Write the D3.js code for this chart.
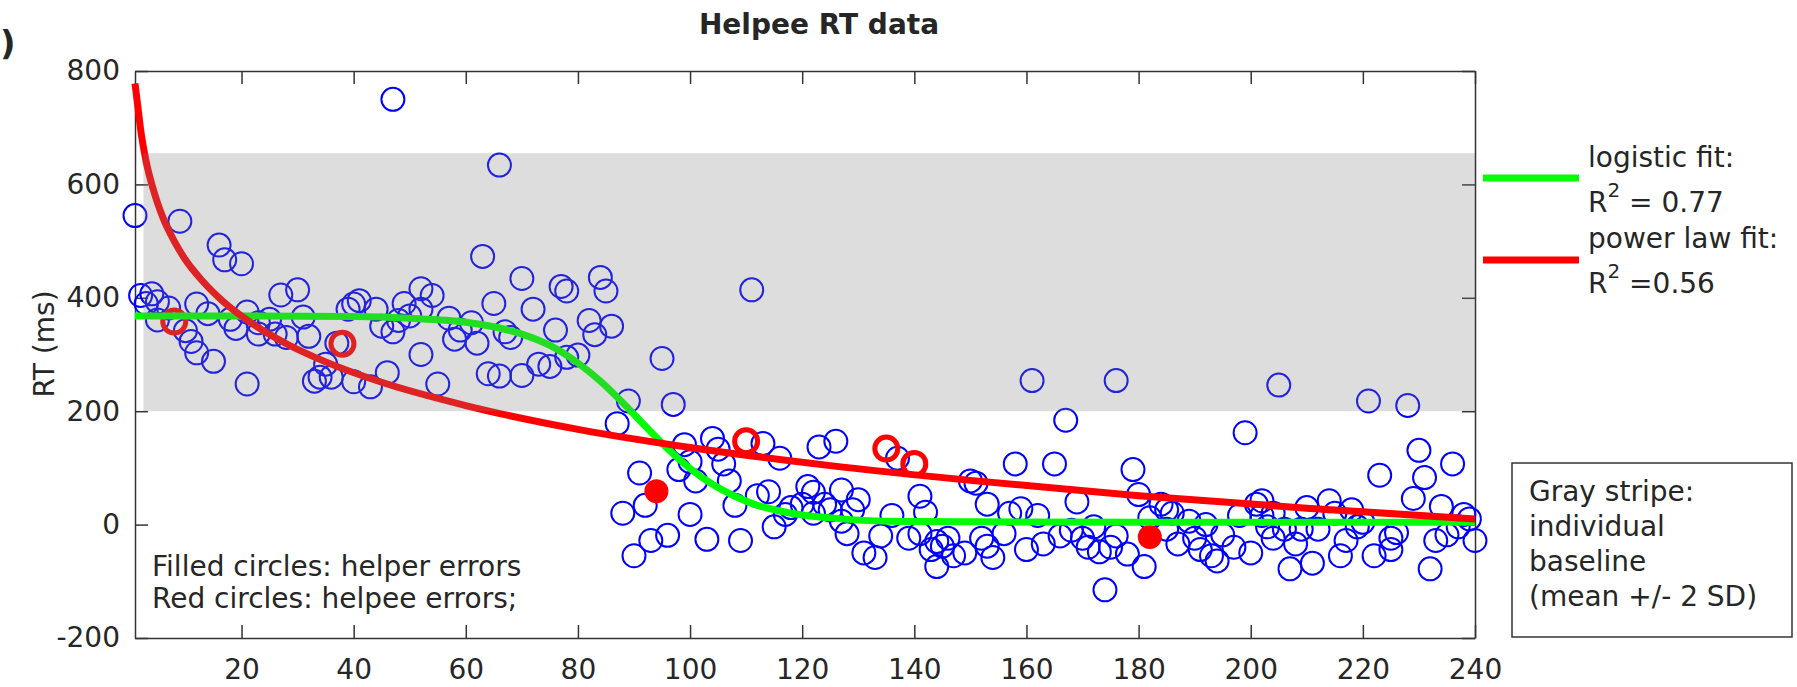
<!DOCTYPE html>
<html>
<head>
<meta charset="utf-8">
<script src="https://cdn.jsdelivr.net/npm/d3@7"></script>
<style>
  body { margin: 0; background: #fff; }
  text { font-family: "DejaVu Sans", sans-serif; fill: #262626; }
</style>
</head>
<body>
<div id="chart-area"></div>
<script>
// Helpee RT data - scatter of RT per trial with two fits

// blue circles: [trial, RT in ms]
const trials = [
  [1,545],[2,404],[3,390],[4,407],[5,393],[5,361],[7,382],[9,535],[10,342],[11,323],
  [12,303],[12,389],[14,372],[15,288],[16,493],[17,467],[18,362],[19,346],[20,460],[21,375],
  [21,248],[23,356],[23,336],[25,362],[26,336],[27,405],[28,330],[30,414],[31,366],[32,332],
  [33,253],[34,260],[35,283],[36,260],[37,320],[39,380],[40,389],[40,252],[41,395],[43,243],
  [44,380],[45,350],[46,268],[47,750],[47,340],[48,360],[49,390],[50,368],[52,416],[52,380],
  [52,300],[54,404],[55,248],[57,364],[58,327],[59,343],[61,356],[62,320],[63,473],[64,266],
  [65,390],[66,262],[66,634],[67,340],[68,330],[70,434],[70,263],[72,380],[73,283],[75,279],
  [76,343],[77,420],[78,412],[78,295],[80,299],[82,360],[83,335],[84,436],[85,412],[86,350],
  [87,178],[88,20],[89,218],[90,-55],[91,91],[92,34],[93,-28],[95,293],[96,-19],[97,212],
  [98,97],[99,141],[100,111],[101,77],[100,18],[103,-26],[104,152],[105,133],[106,107],[107,77],
  [108,34],[109,-28],[111,414],[112,51],[113,143],[114,58],[115,-4],[116,117],[117,18],[118,30],
  [120,36],[121,67],[122,57],[123,137],[122,20],[124,36],[125,26],[126,147],[127,61],[127,6],
  [128,-16],[129,26],[130,44],[131,-50],[133,-58],[134,-20],[136,16],[137,117],[139,-24],[141,-16],
  [141,50],[142,22],[143,-44],[144,-74],[144,-30],[145,-38],[146,-24],[147,-55],[149,-50],[150,77],
  [151,73],[153,36],[152,-24],[153,-38],[154,-58],[156,-16],[157,20],[158,107],[159,28],[160,-44],
  [161,254],[162,16],[163,-34],[165,107],[166,-20],[167,184],[168,-10],[169,40],[170,-24],[171,-40],
  [172,-4],[173,-48],[174,-115],[175,-40],[176,254],[176,-20],[178,-52],[179,97],[180,53],[181,-74],
  [182,12],[184,36],[185,26],[185,-8],[186,20],[187,-34],[189,6],[190,-24],[191,-44],[192,0],
  [193,-55],[194,-64],[195,-18],[197,-40],[198,16],[199,162],[200,-50],[201,36],[202,42],[202,16],
  [203,-4],[204,20],[205,246],[204,-24],[206,-8],[207,-78],[208,-34],[209,-8],[210,30],[211,-68],
  [212,-8],[214,42],[215,20],[216,-55],[217,-28],[218,26],[219,-4],[221,218],[220,4],[222,-55],
  [223,87],[225,-44],[225,-24],[226,-14],[228,210],[229,46],[230,131],[231,83],[232,-78],[233,-28],
  [234,32],[235,-18],[236,107],[237,-4],[238,18],[239,10],[240,-28]
];

// red open circles (helpee errors) and filled red circles (helper errors)
const helpeeErrors = [[8,358],[38,319],[110,147],[135,134],[140,107]];
const helperErrors = [[94,59],[182,-22]];

// fitted curves
const logisticFit = [
  [1,368],[20,368],[40,367],[50,364],[60,357],[65,349],[70,336],[75,316],[80,285],[84,253],
  [88,215],[92,174],[96,134],[100,99],[104,71],[108,50],[112,34],[116,24],[120,17],[126,11],
  [135,6],[150,5],[180,4],[240,4]
];
const powerFit = [
  [1,778],[1.5,738],[2,697],[3,640],[4,600],[5,568],[6,541],[8,500],[10,467],[13,430],
  [17,391],[22,354],[28,319],[35,287],[45,251],[60,210],[80,168],[100,136],[125,104],
  [150,78],[180,51],[210,29],[240,10]
];

// baseline stripe (mean +/- 2 SD)
const stripe = { from: 2.5, to: 240, low: 200, high: 655 };

const xTicks = [20, 40, 60, 80, 100, 120, 140, 160, 180, 200, 220, 240];
const yTicks = [-200, 0, 200, 400, 600, 800];

const MARGIN = { LEFT: 135, TOP: 71 };
const WIDTH = 1340;
const HEIGHT = 567;
const FONT = 28;

const svg = d3.select("#chart-area").append("svg")
  .attr("width", 1797)
  .attr("height", 687);

const g = svg.append("g")
  .attr("transform", `translate(${MARGIN.LEFT},${MARGIN.TOP})`);

const x = d3.scaleLinear()
  .domain([1, 240])
  .range([0, WIDTH]);

const y = d3.scaleLinear()
  .domain([-200, 800])
  .range([HEIGHT, 0]);

// axes (box style, ticks pointing inward)
const axisColor = "#333";

const xAxisGroup = g.append("g")
  .attr("transform", `translate(0,${HEIGHT})`)
  .call(d3.axisBottom(x).tickValues(xTicks).tickSize(-13).tickSizeOuter(0)
    .tickPadding(21).tickFormat(d => String(d)));

const yAxisGroup = g.append("g")
  .call(d3.axisLeft(y).tickValues(yTicks).tickSize(-13).tickSizeOuter(0)
    .tickPadding(15).tickFormat(d => String(d)));

const topAxisGroup = g.append("g")
  .call(d3.axisTop(x).tickValues(xTicks).tickSize(-13).tickSizeOuter(0).tickFormat(""));

const rightAxisGroup = g.append("g")
  .attr("transform", `translate(${WIDTH},0)`)
  .call(d3.axisRight(y).tickValues(yTicks).tickSize(-13).tickSizeOuter(0).tickFormat(""));

[xAxisGroup, yAxisGroup, topAxisGroup, rightAxisGroup].forEach(ax => {
  ax.selectAll("path").attr("stroke", axisColor).attr("stroke-width", 1.5);
  ax.selectAll("line").attr("stroke", axisColor).attr("stroke-width", 1.5);
  ax.selectAll("text")
    .attr("font-size", FONT)
    .attr("font-family", "DejaVu Sans")
    .attr("fill", "#262626");
});

// scatter
g.selectAll("circle.trial")
  .data(trials)
  .enter().append("circle")
  .attr("class", "trial")
  .attr("cx", d => x(d[0]))
  .attr("cy", d => y(d[1]))
  .attr("r", 11.5)
  .attr("fill", "none")
  .attr("stroke", "#0000ff")
  .attr("stroke-width", 2);

g.selectAll("circle.helpee")
  .data(helpeeErrors)
  .enter().append("circle")
  .attr("class", "helpee")
  .attr("cx", d => x(d[0]))
  .attr("cy", d => y(d[1]))
  .attr("r", 11.5)
  .attr("fill", "none")
  .attr("stroke", "#ff0000")
  .attr("stroke-width", 5);

g.selectAll("circle.helper")
  .data(helperErrors)
  .enter().append("circle")
  .attr("class", "helper")
  .attr("cx", d => x(d[0]))
  .attr("cy", d => y(d[1]))
  .attr("r", 12)
  .attr("fill", "#ff0000");

// fits
const line = d3.line()
  .x(d => x(d[0]))
  .y(d => y(d[1]))
  .curve(d3.curveMonotoneX);

g.append("path")
  .datum(logisticFit)
  .attr("d", line)
  .attr("fill", "none")
  .attr("stroke", "#00ff00")
  .attr("stroke-width", 7);

g.append("path")
  .datum(powerFit)
  .attr("d", line)
  .attr("fill", "none")
  .attr("stroke", "#ff0000")
  .attr("stroke-width", 7);

// translucent baseline stripe on top of everything
g.append("rect")
  .attr("x", x(stripe.from))
  .attr("y", y(stripe.high))
  .attr("width", x(stripe.to) - x(stripe.from))
  .attr("height", y(stripe.low) - y(stripe.high))
  .attr("fill", "#808080")
  .attr("fill-opacity", 0.27);

// title and labels
svg.append("text")
  .attr("x", 819)
  .attr("y", 34)
  .attr("text-anchor", "middle")
  .attr("font-family", "Liberation Sans")
  .attr("font-size", 28)
  .attr("font-weight", "bold")
  .text("Helpee RT data");

// panel letter, only its closing bracket is visible in the source
svg.append("text")
  .attr("x", 0)
  .attr("y", 55)
  .attr("font-size", 34)
  .attr("font-weight", "bold")
  .text(")");

svg.append("text")
  .attr("transform", `translate(54,344) rotate(-90)`)
  .attr("text-anchor", "middle")
  .attr("font-size", FONT)
  .text("RT (ms)");

svg.append("text")
  .attr("x", 152)
  .attr("y", 576)
  .attr("font-size", FONT)
  .text("Filled circles: helper errors");

svg.append("text")
  .attr("x", 152)
  .attr("y", 608)
  .attr("font-size", FONT)
  .text("Red circles: helpee errors;");

// legend
const legendItems = [
  { color: "#00ff00", name: "logistic fit:", r2: " = 0.77", lineY: 178, nameY: 167, r2Y: 212 },
  { color: "#ff0000", name: "power law fit:", r2: " =0.56", lineY: 260, nameY: 248, r2Y: 293 }
];

legendItems.forEach(item => {
  svg.append("line")
    .attr("x1", 1483)
    .attr("x2", 1579)
    .attr("y1", item.lineY)
    .attr("y2", item.lineY)
    .attr("stroke", item.color)
    .attr("stroke-width", 7);

  svg.append("text")
    .attr("x", 1588)
    .attr("y", item.nameY)
    .attr("font-size", FONT)
    .text(item.name);

  const r2 = svg.append("text")
    .attr("x", 1588)
    .attr("y", item.r2Y)
    .attr("font-size", FONT);
  r2.append("tspan").text("R");
  r2.append("tspan").attr("dy", -15).attr("font-size", 20).text("2");
  r2.append("tspan").attr("dy", 15).text(item.r2);
});

// note box
svg.append("rect")
  .attr("x", 1512)
  .attr("y", 463)
  .attr("width", 280)
  .attr("height", 174)
  .attr("fill", "#fff")
  .attr("stroke", "#333")
  .attr("stroke-width", 1.5);

const note = ["Gray stripe:", "individual", "baseline", "(mean +/- 2 SD)"];
note.forEach((t, i) => {
  svg.append("text")
    .attr("x", 1529)
    .attr("y", 501 + i * 35)
    .attr("font-size", FONT)
    .text(t);
});
</script>
</body>
</html>
